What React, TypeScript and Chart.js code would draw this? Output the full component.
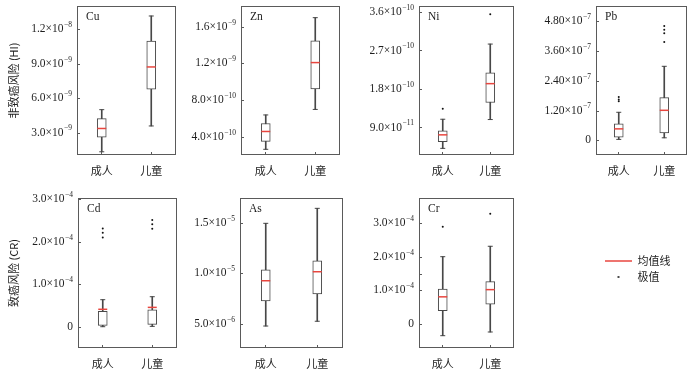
import React, { useEffect, useRef } from 'react';
import { Chart, registerables } from 'chart.js';
Chart.register(...registerables);

const GROUPS = ['成人', '儿童'];
const LEGEND_LABELS = ['均值线', '极值'];
const AXIS_TITLES = ['非致癌风险 (HI)', '致癌风险 (CR)'];

// Cu
const CU_MIN = [1.32e-9, 3.57e-9];
const CU_Q1 = [2.59e-9, 6.77e-9];
const CU_MEAN = [3.35e-9, 8.71e-9];
const CU_Q3 = [4.21e-9, 1.096e-8];
const CU_MAX = [4.99e-9, 1.315e-8];
const CU_OUT_ADULT: number[] = [];
const CU_OUT_CHILD: number[] = [];
const CU_TICKS = [3e-9, 6e-9, 9e-9, 1.2e-8];
const CU_TICK_LABELS = ['3.0×10^−9', '6.0×10^−9', '9.0×10^−9', '1.2×10^−8'];
const CU_RANGE = [1.04e-9, 1.402e-8];

// Zn
const ZN_MIN = [2.64e-10, 6.98e-10];
const ZN_Q1 = [3.5e-10, 9.22e-10];
const ZN_MEAN = [4.58e-10, 1.208e-9];
const ZN_Q3 = [5.45e-10, 1.445e-9];
const ZN_MAX = [6.38e-10, 1.697e-9];
const ZN_OUT_ADULT: number[] = [];
const ZN_OUT_CHILD: number[] = [];
const ZN_TICKS = [4e-10, 8e-10, 1.2e-9, 1.6e-9];
const ZN_TICK_LABELS = ['4.0×10^−10', '8.0×10^−10', '1.2×10^−9', '1.6×10^−9'];
const ZN_RANGE = [2.02e-10, 1.824e-9];

// Ni
const NI_MIN = [4.12e-11, 1.086e-10];
const NI_Q1 = [5.66e-11, 1.484e-10];
const NI_MEAN = [7.28e-11, 1.925e-10];
const NI_Q3 = [8.21e-11, 2.18e-10];
const NI_MAX = [1.093e-10, 2.85e-10];
const NI_OUT_ADULT = [1.341e-10];
const NI_OUT_CHILD = [3.55e-10];
const NI_TICKS = [9e-11, 1.8e-10, 2.7e-10, 3.6e-10];
const NI_TICK_LABELS = ['9.0×10^−11', '1.8×10^−10', '2.7×10^−10', '3.6×10^−10'];
const NI_RANGE = [2.57e-11, 3.74e-10];

// Pb
const PB_MIN = [0.04e-7, 0.104e-7];
const PB_Q1 = [0.132e-7, 0.303e-7];
const PB_MEAN = [0.463e-7, 1.209e-7];
const PB_Q3 = [0.662e-7, 1.716e-7];
const PB_MAX = [1.129e-7, 2.977e-7];
const PB_OUT_ADULT = [1.74e-7, 1.648e-7, 1.568e-7];
const PB_OUT_CHILD = [4.6e-7, 4.45e-7, 4.31e-7, 3.95e-7];
const PB_TICKS = [0, 1.2e-7, 2.4e-7, 3.6e-7, 4.8e-7];
const PB_TICK_LABELS = ['0', '1.20×10^−7', '2.40×10^−7', '3.60×10^−7', '4.80×10^−7'];
const PB_RANGE = [-0.587e-7, 5.4e-7];

// Cd
const CD_MIN = [0.007e-4, 0.015e-4];
const CD_Q1 = [0.04e-4, 0.06e-4];
const CD_MEAN = [0.415e-4, 0.46e-4];
const CD_Q3 = [0.37e-4, 0.405e-4];
const CD_MAX = [0.64e-4, 0.71e-4];
const CD_OUT_ADULT = [2.31e-4, 2.21e-4, 2.1e-4];
const CD_OUT_CHILD = [2.51e-4, 2.41e-4, 2.3e-4];
const CD_TICKS = [0, 1e-4, 2e-4, 3e-4];
const CD_TICK_LABELS = ['0', '1.0×10^−4', '2.0×10^−4', '3.0×10^−4'];
const CD_RANGE = [-0.492e-4, 3.023e-4];

// As
const AS_MIN = [4.8e-6, 5.27e-6];
const AS_Q1 = [7.27e-6, 7.96e-6];
const AS_MEAN = [9.27e-6, 1.016e-5];
const AS_Q3 = [1.036e-5, 1.124e-5];
const AS_MAX = [1.494e-5, 1.642e-5];
const AS_OUT_ADULT: number[] = [];
const AS_OUT_CHILD: number[] = [];
const AS_TICKS = [5e-6, 1e-5, 1.5e-5];
const AS_TICK_LABELS = ['5.0×10^−6', '1.0×10^−5', '1.5×10^−5'];
const AS_RANGE = [2.63e-6, 1.744e-5];

// Cr
const CR_MIN = [-0.35e-4, -0.24e-4];
const CR_Q1 = [0.397e-4, 0.59e-4];
const CR_MEAN = [0.806e-4, 1.02e-4];
const CR_Q3 = [1.036e-4, 1.26e-4];
const CR_MAX = [2.0e-4, 2.31e-4];
const CR_OUT_ADULT = [2.89e-4];
const CR_OUT_CHILD = [3.28e-4];
const CR_TICKS = [0, 1e-4, 1.5e-4, 2e-4, 3e-4];
const CR_TICK_LABELS = ['0', '1.0×10^−4', '', '2.0×10^−4', '3.0×10^−4'];
const CR_RANGE = [-0.716e-4, 3.746e-4];

type Panel = {
  name: string; min: number[]; q1: number[]; mean: number[]; q3: number[]; max: number[];
  outliers: number[][]; ticks: number[]; tickLabels: string[]; range: number[]; title?: string;
};

const PANELS: Panel[] = [
  { name: 'Cu', min: CU_MIN, q1: CU_Q1, mean: CU_MEAN, q3: CU_Q3, max: CU_MAX, outliers: [CU_OUT_ADULT, CU_OUT_CHILD], ticks: CU_TICKS, tickLabels: CU_TICK_LABELS, range: CU_RANGE, title: AXIS_TITLES[0] },
  { name: 'Zn', min: ZN_MIN, q1: ZN_Q1, mean: ZN_MEAN, q3: ZN_Q3, max: ZN_MAX, outliers: [ZN_OUT_ADULT, ZN_OUT_CHILD], ticks: ZN_TICKS, tickLabels: ZN_TICK_LABELS, range: ZN_RANGE },
  { name: 'Ni', min: NI_MIN, q1: NI_Q1, mean: NI_MEAN, q3: NI_Q3, max: NI_MAX, outliers: [NI_OUT_ADULT, NI_OUT_CHILD], ticks: NI_TICKS, tickLabels: NI_TICK_LABELS, range: NI_RANGE },
  { name: 'Pb', min: PB_MIN, q1: PB_Q1, mean: PB_MEAN, q3: PB_Q3, max: PB_MAX, outliers: [PB_OUT_ADULT, PB_OUT_CHILD], ticks: PB_TICKS, tickLabels: PB_TICK_LABELS, range: PB_RANGE },
  { name: 'Cd', min: CD_MIN, q1: CD_Q1, mean: CD_MEAN, q3: CD_Q3, max: CD_MAX, outliers: [CD_OUT_ADULT, CD_OUT_CHILD], ticks: CD_TICKS, tickLabels: CD_TICK_LABELS, range: CD_RANGE, title: AXIS_TITLES[1] },
  { name: 'As', min: AS_MIN, q1: AS_Q1, mean: AS_MEAN, q3: AS_Q3, max: AS_MAX, outliers: [AS_OUT_ADULT, AS_OUT_CHILD], ticks: AS_TICKS, tickLabels: AS_TICK_LABELS, range: AS_RANGE },
  { name: 'Cr', min: CR_MIN, q1: CR_Q1, mean: CR_MEAN, q3: CR_Q3, max: CR_MAX, outliers: [CR_OUT_ADULT, CR_OUT_CHILD], ticks: CR_TICKS, tickLabels: CR_TICK_LABELS, range: CR_RANGE },
];

// layout (pixel boxes of each plot area)
const LAYOUT = [
  { left: 77, top: 5, right: 179, bottom: 155, cl: 0, padTop: 5 },
  { left: 241, top: 5, right: 343, bottom: 155, cl: 170, padTop: 5 },
  { left: 419, top: 5, right: 517, bottom: 155, cl: 345, padTop: 5 },
  { left: 596, top: 5, right: 690, bottom: 155, cl: 525, padTop: 5 },
  { left: 78, top: 198, right: 180, bottom: 348, cl: 0, padTop: 10 },
  { left: 240, top: 198, right: 346, bottom: 348, cl: 170, padTop: 10 },
  { left: 419, top: 198, right: 517, bottom: 348, cl: 345, padTop: 10 },
];
const XH = 30;
const PAD_R = 3;

const SERIF = "'Liberation Serif', 'Times New Roman', serif";
const CJK = "'Noto Sans CJK SC', sans-serif";
const BOX = '#474747';
const FRAME = '#5a5a5a';
const RED = '#e8463f';
const TEXT = '#1e1e1e';

Chart.defaults.font.family = SERIF;

const decoPlugin = {
  id: 'deco',
  afterDraw(chart: any, _args: any, opts: any) {
    const { ctx, chartArea: a } = chart;
    const ys = chart.scales.y;
    const xs = chart.scales.x;
    ctx.save();
    ctx.strokeStyle = FRAME;
    ctx.lineWidth = 1;
    ctx.beginPath();
    opts.ticks.forEach((v: number) => {
      const py = Math.round(ys.getPixelForValue(v)) + 0.5;
      ctx.moveTo(a.left, py);
      ctx.lineTo(a.left + 3, py);
    });
    GROUPS.forEach((_g, i) => {
      const px = Math.floor(xs.getPixelForValue(i)) + 0.5;
      ctx.moveTo(px, a.bottom);
      ctx.lineTo(px, a.bottom - 3);
    });
    ctx.stroke();
    ctx.strokeRect(a.left + 0.5, a.top + 0.5, a.right - a.left - 1, a.bottom - a.top - 1);

    ctx.fillStyle = TEXT;
    ctx.textBaseline = 'middle';
    ctx.textAlign = 'right';
    opts.ticks.forEach((v: number, i: number) => {
      const lab = opts.labels[i];
      if (!lab) return;
      const py = ys.getPixelForValue(v);
      const parts = lab.split('^');
      let xr = a.left - 5;
      if (parts[1]) {
        ctx.font = `7.5px ${SERIF}`;
        ctx.fillText(parts[1], xr, py - 4);
        xr -= ctx.measureText(parts[1]).width + 0.5;
      }
      ctx.font = `11.5px ${SERIF}`;
      ctx.fillText(parts[0], xr, py);
    });
    ctx.textAlign = 'left';
    ctx.font = `11.5px ${SERIF}`;
    ctx.fillText(opts.name, a.left + 9, a.top + 11);
    ctx.restore();
  },
};

function makeConfig(p: Panel, lay: any): any {
  const W = lay.left - lay.cl;
  const capPts: any[] = [];
  const meanPts: any[] = [];
  const outPts: any[] = [];
  GROUPS.forEach((g, i) => {
    capPts.push({ x: g, y: p.min[i] }, { x: g, y: p.max[i] });
    meanPts.push({ x: g, y: p.mean[i] });
    p.outliers[i].forEach((v) => outPts.push({ x: g, y: v }));
  });
  return {
    type: 'bar',
    data: {
      labels: GROUPS,
      datasets: [
        { type: 'bar', data: GROUPS.map((_g, i) => [p.min[i], p.max[i]]), backgroundColor: BOX, borderWidth: 0, barThickness: 1, grouped: false, order: 4 },
        { type: 'bar', data: GROUPS.map((_g, i) => [p.q1[i], p.q3[i]]), backgroundColor: '#ffffff', borderColor: BOX, borderWidth: 1, borderSkipped: false, barThickness: 9, grouped: false, order: 3 },
        { type: 'line', data: capPts, showLine: false, pointStyle: 'line', pointRadius: 2.5, pointBorderColor: BOX, pointBorderWidth: 1, order: 2 },
        { type: 'line', data: meanPts, showLine: false, pointStyle: 'line', pointRadius: 4.5, pointBorderColor: RED, pointBorderWidth: 1.5, order: 1 },
        { type: 'line', data: outPts, showLine: false, pointStyle: 'circle', pointRadius: 1, pointBackgroundColor: '#111', pointBorderWidth: 0, order: 0 },
      ],
    },
    options: {
      responsive: false,
      maintainAspectRatio: false,
      animation: false,
      events: [],
      layout: { padding: { top: lay.padTop, right: PAD_R, left: 0, bottom: 0 } },
      plugins: {
        legend: { display: false },
        tooltip: { enabled: false },
        deco: { ticks: p.ticks, labels: p.tickLabels, name: p.name },
      },
      scales: {
        x: {
          type: 'category',
          offset: true,
          grid: { display: false, drawTicks: false },
          border: { display: false },
          ticks: { font: { family: CJK, size: 11 }, color: TEXT, padding: 9, maxRotation: 0, autoSkip: false },
          afterFit: (s: any) => { s.height = XH; s.paddingLeft = 0; s.paddingRight = 0; },
        },
        y: {
          type: 'linear',
          min: p.range[0],
          max: p.range[1],
          grid: { display: false, drawTicks: false },
          border: { display: false },
          ticks: { display: false },
          title: p.title
            ? { display: true, text: p.title, font: { family: CJK, size: 11 }, color: TEXT, padding: { top: 7, bottom: 0 } }
            : { display: false },
          afterFit: (s: any) => { s.width = W; s.paddingTop = 0; s.paddingBottom = 0; },
        },
      },
    },
    plugins: [decoPlugin],
  };
}

function BoxPanel({ p, lay }: { p: Panel; lay: any }) {
  const ref = useRef<HTMLCanvasElement>(null);
  const ct = lay.top - lay.padTop;
  const w = lay.right + PAD_R - lay.cl;
  const h = lay.bottom + XH - ct;
  useEffect(() => {
    const c = new Chart(ref.current as HTMLCanvasElement, makeConfig(p, lay));
    return () => c.destroy();
  }, []);
  return (
    <canvas ref={ref} width={w} height={h}
      style={{ position: 'absolute', left: lay.cl, top: ct, width: w, height: h }} />
  );
}

function makeDot(): HTMLCanvasElement {
  const c = document.createElement('canvas');
  c.width = 4; c.height = 4;
  const g = c.getContext('2d') as CanvasRenderingContext2D;
  g.fillStyle = '#111';
  g.beginPath();
  g.arc(2, 2, 1, 0, Math.PI * 2);
  g.fill();
  return c;
}

function LegendChart() {
  const ref = useRef<HTMLCanvasElement>(null);
  useEffect(() => {
    const dot = makeDot();
    const c = new Chart(ref.current as HTMLCanvasElement, {
      type: 'line',
      data: { labels: [], datasets: [{ label: LEGEND_LABELS[0], data: [] }, { label: LEGEND_LABELS[1], data: [] }] },
      options: {
        responsive: false,
        animation: false,
        events: [],
        layout: { padding: 0 },
        scales: { x: { display: false }, y: { display: false } },
        plugins: {
          tooltip: { enabled: false },
          legend: {
            display: true,
            position: 'left',
            align: 'center',
            labels: {
              usePointStyle: true,
              pointStyleWidth: 27,
              padding: 5,
              color: TEXT,
              font: { family: CJK, size: 11 },
              generateLabels: () => [
                { text: LEGEND_LABELS[0], pointStyle: 'line', strokeStyle: RED, fillStyle: RED, lineWidth: 1.5, hidden: false, datasetIndex: 0, fontColor: TEXT },
                { text: LEGEND_LABELS[1], pointStyle: dot, strokeStyle: '#111', fillStyle: '#111', lineWidth: 0, hidden: false, datasetIndex: 1, fontColor: TEXT },
              ],
            },
          },
        },
      } as any,
    });
    return () => c.destroy();
  }, []);
  return <canvas ref={ref} width={220} height={48} style={{ position: 'absolute', left: 600, top: 245, width: 220, height: 48 }} />;
}

export default function App() {
  return (
    <div style={{ position: 'fixed', left: 0, top: 0, width: 700, height: 370, background: '#ffffff', overflow: 'hidden' }}>
      {PANELS.map((p, i) => <BoxPanel key={p.name} p={p} lay={LAYOUT[i]} />)}
      <LegendChart />
    </div>
  );
}
